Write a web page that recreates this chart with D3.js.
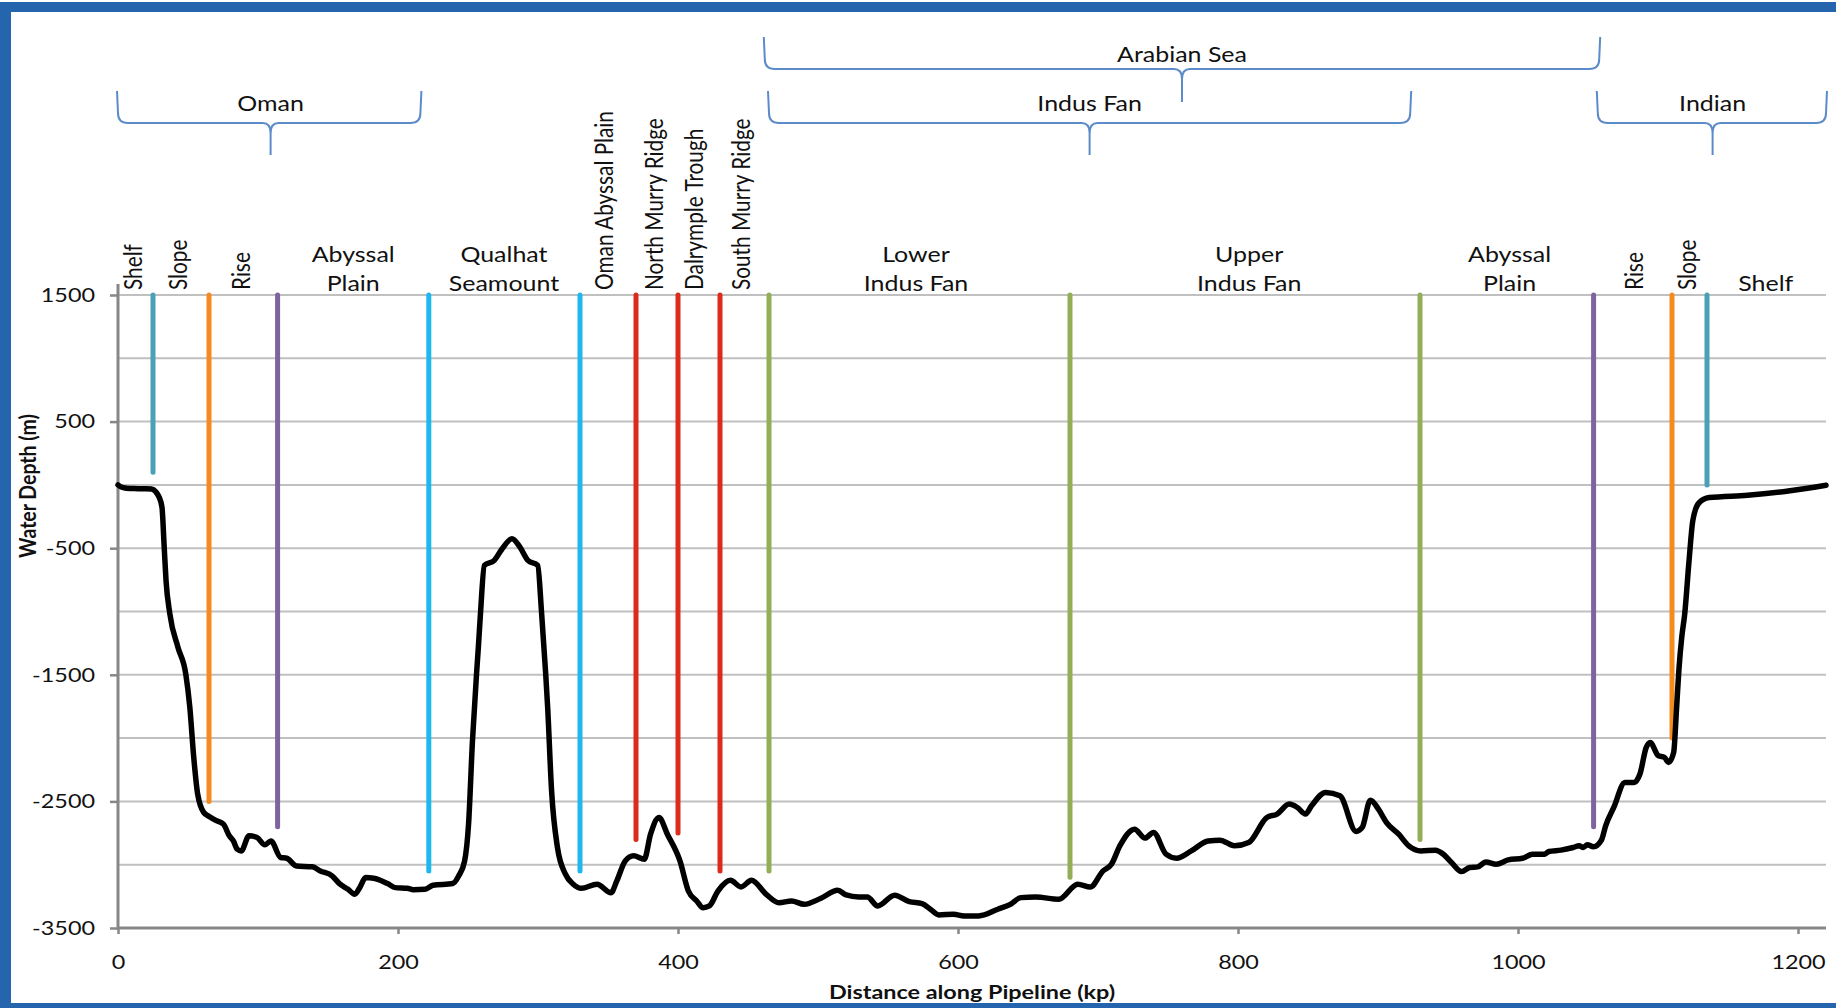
<!DOCTYPE html>
<html>
<head>
<meta charset="utf-8">
<script src="https://cdn.jsdelivr.net/npm/d3@7"></script>
<style>
  html, body { margin: 0; padding: 0; background: #fff; }
  svg { display: block; }
  text { font-family: Lato, "Open Sans", sans-serif; fill: #111; }
</style>
</head>
<body>
<svg id="chart" width="1836" height="1008"></svg>
<script>
// bathymetric profile along the pipeline (km, water depth in m)
const profileKm = [0, 3, 9, 20, 24, 27, 29.5, 31.4, 33, 34.3, 37, 42.8, 48.4, 51.3, 54.1, 56.9, 61.2, 65.4, 69.6, 75.3,
  79.5, 82.4, 85.2, 88, 93.6, 99.3, 104.9, 109.2, 116.2, 120.5, 127.5, 138.8, 144.5, 152.9, 158.6, 164.3, 169.1, 172.7,
  176.9, 182.6, 192.5, 198.1, 206.6, 210.9, 219.3, 225, 239.1, 243.4, 247.6, 250.4, 253.2, 256.1, 257.4, 258.9, 261.7,
  268.8, 274.4, 281.4, 287.1, 292.8, 299.8, 302.6, 305.5, 306.9, 309.7, 313.9, 319.6, 325.2, 330.9, 342.2, 352.1, 356.3,
  362.3, 368.3, 375.9, 380.4, 386.4, 392.4, 401.4, 407.4, 413.4, 417.9, 422.4, 428.5, 437.5, 445, 452.5, 463, 472.1,
  481.1, 490.1, 502.1, 514.1, 520.1, 529.1, 535.2, 542.7, 554.7, 565.2, 574.3, 580.3, 586.3, 596.8, 604.3, 614.8, 628.4,
  637.4, 644.9, 655.4, 672, 685.5, 694.5, 703.6, 709.6, 715.6, 726.1, 733.6, 739.6, 748.6, 756.1, 766.6, 778.7, 787,
  797.5, 807.6, 820.6, 827.9, 836.6, 842.4, 848.2, 852.5, 862.6, 872.8, 884.4, 888.7, 894.6, 900.3, 906.1, 914.8, 922,
  930.7, 940.9, 946.7, 952.5, 959.7, 965.5, 971.3, 977.1, 984.4, 993.1, 1003.2, 1010.4, 1019.1, 1022, 1030.7, 1039.4,
  1043.7, 1046.6, 1049.5, 1053.9, 1059.6, 1062.6, 1068.4, 1076.4, 1082.9, 1087.1, 1091.6, 1094.4, 1100.2, 1104.6,
  1107.5, 1111.2, 1113.3, 1115, 1117, 1119.1, 1122, 1124.9, 1129.2, 1136.5, 1164, 1193, 1220];
const profileDepth = [0, -20, -29, -30, -32, -55, -100, -175, -491, -755, -1016, -1282, -1493, -1757, -2152, -2442, -2587,
  -2621, -2648, -2680, -2772, -2812, -2878, -2891, -2772, -2785, -2843, -2812, -2943, -2949, -3010, -3017, -3049, -3088,
  -3154, -3194, -3233, -3181, -3102, -3107, -3149, -3181, -3186, -3197, -3194, -3162, -3149, -3088, -2970, -2680, -2020,
  -1493, -1282, -1018, -636, -596, -504, -425, -491, -596, -636, -1018, -1493, -1757, -2416, -2864, -3075, -3154, -3186,
  -3154, -3221, -3128, -2970, -2930, -2957, -2759, -2627, -2759, -2970, -3208, -3287, -3340, -3326, -3208, -3123, -3176,
  -3123, -3234, -3300, -3287, -3313, -3265, -3202, -3239, -3255, -3255, -3326, -3241, -3292, -3307, -3352, -3397, -3391,
  -3405, -3405, -3352, -3313, -3260, -3255, -3273, -3154, -3176, -3049, -2996, -2851, -2719, -2790, -2745, -2917, -2949,
  -2891, -2812, -2806, -2851, -2825, -2627, -2600, -2521, -2548, -2600, -2535, -2429, -2456, -2738, -2706, -2490, -2561,
  -2667, -2759, -2851, -2891, -2885, -2917, -2983, -3054, -3022, -3017, -2978, -2996, -2962, -2949, -2917, -2917, -2896,
  -2885, -2864, -2851, -2864, -2843, -2859, -2806, -2693, -2548, -2350, -2350, -2284, -2073, -2034, -2139, -2152, -2192,
  -2113, -1757, -1450, -1200, -1018, -623, -280, -143, -100, -82, -48, -3];

// zone boundary markers (km, lower end in m, kind)
const markerKm = [25, 65, 114, 222, 330, 370, 400, 430, 465, 680, 930, 1054, 1110, 1135];
const markerBottom = [100, -2500, -2700, -3050, -3050, -2800, -2750, -3050, -3050, -3100, -2800, -2700, -2000, 0];
const markerKind = ['shelf', 'slope', 'rise', 'seamount', 'seamount', 'ridge', 'ridge', 'ridge',
  'fan', 'fan', 'fan', 'rise', 'slope', 'shelf'];

// zone names above the plot
const zoneNames = ['Shelf', 'Slope', 'Rise', 'Abyssal|Plain', 'Qualhat|Seamount', 'Oman Abyssal Plain',
  'North Murry Ridge', 'Dalrymple Trough', 'South Murry Ridge', 'Lower|Indus Fan', 'Upper|Indus Fan',
  'Abyssal|Plain', 'Rise', 'Slope', 'Shelf'];
const zoneKm = [10.7, 43.2, 87.9, 168, 275.7, 347, 383.2, 411.8, 445.4, 570, 808, 994, 1083, 1121, 1177];
const zoneUpright = [1, 1, 1, 0, 0, 1, 1, 1, 1, 0, 0, 0, 1, 1, 0];

// region braces
const braceNames = ['Oman', 'Arabian Sea', 'Indus Fan', 'Indian'];
const braceFrom = [0, 462, 465, 1057];
const braceTo = [216, 1058, 923, 1220];
const braceMid = [109, 760, 694, 1139];
const braceLevel = [1, 0, 1, 1];

const xTicks = [0, 200, 400, 600, 800, 1000, 1200];
const yTicks = [1500, 500, -500, -1500, -2500, -3500];
const yGrid = [1500, 1000, 500, 0, -500, -1000, -1500, -2000, -2500, -3000];

const kindColor = {
  shelf: '#4aa0b6', slope: '#f58a1f', rise: '#7e63a0', seamount: '#1db8ee',
  ridge: '#dc2a1c', fan: '#92ae56'
};
const SX = 1.2; // the picture is slightly wider than tall
const braceColor = '#5b8bc9';
const axisColor = '#878787';
const plainNum = d => String(d); // keep the ascii hyphen for negatives

const svg = d3.select('#chart');

const x = d3.scaleLinear().domain([0, 1220]).range([118, 1826]);
const y = d3.scaleLinear().domain([-3500, 1500]).range([928, 295]);

// frame
svg.append('rect').attr('x', 0).attr('y', 2).attr('width', 1836).attr('height', 10).attr('fill', '#2565ae');
svg.append('rect').attr('x', 0).attr('y', 2).attr('width', 11).attr('height', 1006).attr('fill', '#2565ae');
svg.append('rect').attr('x', 0).attr('y', 1003).attr('width', 1836).attr('height', 5).attr('fill', '#2565ae');

// gridlines
svg.append('g').selectAll('line')
  .data(yGrid)
  .enter().append('line')
  .attr('x1', x(0)).attr('x2', x(1220))
  .attr('y1', d => y(d)).attr('y2', d => y(d))
  .attr('stroke', '#c0c0c0')
  .attr('stroke-width', 2);

// x axis
const xAxis = svg.append('g')
  .attr('transform', 'translate(0,' + y(-3500) + ')')
  .call(d3.axisBottom(x).tickValues(xTicks).tickFormat(plainNum).tickSize(6).tickPadding(21));
xAxis.select('.domain').remove();
xAxis.selectAll('.tick line').attr('stroke', axisColor).attr('stroke-width', 2.5);
xAxis.selectAll('.tick text')
  .attr('transform', 'scale(' + SX + ',1)')
  .style('font-size', '19.5px')
  .style('font-family', 'Lato, sans-serif')
  .attr('fill', '#111');
svg.append('line')
  .attr('x1', x(0)).attr('x2', x(1220))
  .attr('y1', y(-3500)).attr('y2', y(-3500))
  .attr('stroke', axisColor).attr('stroke-width', 3);

// y axis
const yAxis = svg.append('g')
  .attr('transform', 'translate(' + x(0) + ',0)')
  .call(d3.axisLeft(y).tickValues(yTicks).tickFormat(plainNum).tickSize(8));
yAxis.select('.domain').remove();
yAxis.selectAll('.tick line').attr('stroke', axisColor).attr('stroke-width', 2.5);
yAxis.selectAll('.tick text')
  .attr('x', -23 / SX)
  .attr('transform', 'scale(' + SX + ',1)')
  .style('font-size', '19.5px')
  .style('font-family', 'Lato, sans-serif')
  .attr('fill', '#111');
svg.append('line')
  .attr('x1', x(0)).attr('x2', x(0))
  .attr('y1', y(1500) - 11).attr('y2', y(-3500) + 1.5)
  .attr('stroke', axisColor).attr('stroke-width', 3);

// axis titles
svg.append('text')
  .attr('transform', 'translate(28,486) scale(' + SX + ',1) rotate(-90)')
  .attr('text-anchor', 'middle')
  .attr('dy', '0.35em')
  .style('font-size', '19.5px')
  .style('font-weight', 'bold')
  .text('Water Depth (m)');

svg.append('text')
  .attr('transform', 'translate(972,999) scale(' + SX + ',1)')
  .attr('text-anchor', 'middle')
  .style('font-size', '19.5px')
  .style('font-weight', 'bold')
  .text('Distance along Pipeline (kp)');

// zone boundary markers
svg.append('g').selectAll('line')
  .data(markerKm)
  .enter().append('line')
  .attr('x1', d => x(d)).attr('x2', d => x(d))
  .attr('y1', y(1500))
  .attr('y2', (d, i) => y(markerBottom[i]))
  .attr('stroke', (d, i) => kindColor[markerKind[i]])
  .attr('stroke-width', 5)
  .attr('stroke-linecap', 'round');

// seabed profile
const profile = profileKm.map((k, i) => [k, profileDepth[i]]);
svg.append('path')
  .datum(profile)
  .attr('fill', 'none')
  .attr('stroke', '#000')
  .attr('stroke-width', 5.5)
  .attr('stroke-linejoin', 'round')
  .attr('stroke-linecap', 'round')
  .attr('d', d3.line().x(d => x(d[0])).y(d => y(d[1])).curve(d3.curveMonotoneX));

// zone names
const zones = svg.append('g');
zoneNames.forEach((name, i) => {
  const cx = x(zoneKm[i]);
  if (zoneUpright[i]) {
    zones.append('text')
      .attr('transform', 'translate(' + cx + ',290) scale(' + SX + ',1) rotate(-90)')
      .attr('dy', '0.35em')
      .style('font-size', '20.8px')
      .text(name);
  } else {
    const lines = name.split('|');
    lines.forEach((ln, j) => {
      zones.append('text')
        .attr('transform', 'translate(' + cx + ',' + (291 - (lines.length - 1 - j) * 29) + ') scale(' + SX + ',1)')
        .attr('text-anchor', 'middle')
        .style('font-size', '20.8px')
        .text(ln);
    });
  }
});

// region braces
const levels = [{ top: 37, h: 69, tip: 102, label: 62 }, { top: 91, h: 123, tip: 155, label: 111 }];
function bracePath(x0, x1, xm, top, h, tip) {
  const r = 10;
  return 'M' + (x0 - 1) + ',' + top + ' L' + x0 + ',' + (h - r) + ' Q' + x0 + ',' + h + ' ' + (x0 + r) + ',' + h +
    ' L' + (xm - 8) + ',' + h + ' Q' + xm + ',' + h + ' ' + xm + ',' + (h + r) + ' L' + xm + ',' + tip +
    ' M' + xm + ',' + (h + r) + ' Q' + xm + ',' + h + ' ' + (xm + 8) + ',' + h +
    ' L' + (x1 - r) + ',' + h + ' Q' + x1 + ',' + h + ' ' + x1 + ',' + (h - r) + ' L' + (x1 + 1) + ',' + top;
}
const braces = svg.append('g');
braceNames.forEach((name, i) => {
  const lv = levels[braceLevel[i]];
  braces.append('path')
    .attr('d', bracePath(x(braceFrom[i]), x(braceTo[i]), x(braceMid[i]), lv.top, lv.h, lv.tip))
    .attr('fill', 'none')
    .attr('stroke', braceColor)
    .attr('stroke-width', 2);
  braces.append('text')
    .attr('transform', 'translate(' + x(braceMid[i]) + ',' + lv.label + ') scale(' + SX + ',1)')
    .attr('text-anchor', 'middle')
    .style('font-size', '20.8px')
    .text(name);
});
</script>
</body>
</html>
